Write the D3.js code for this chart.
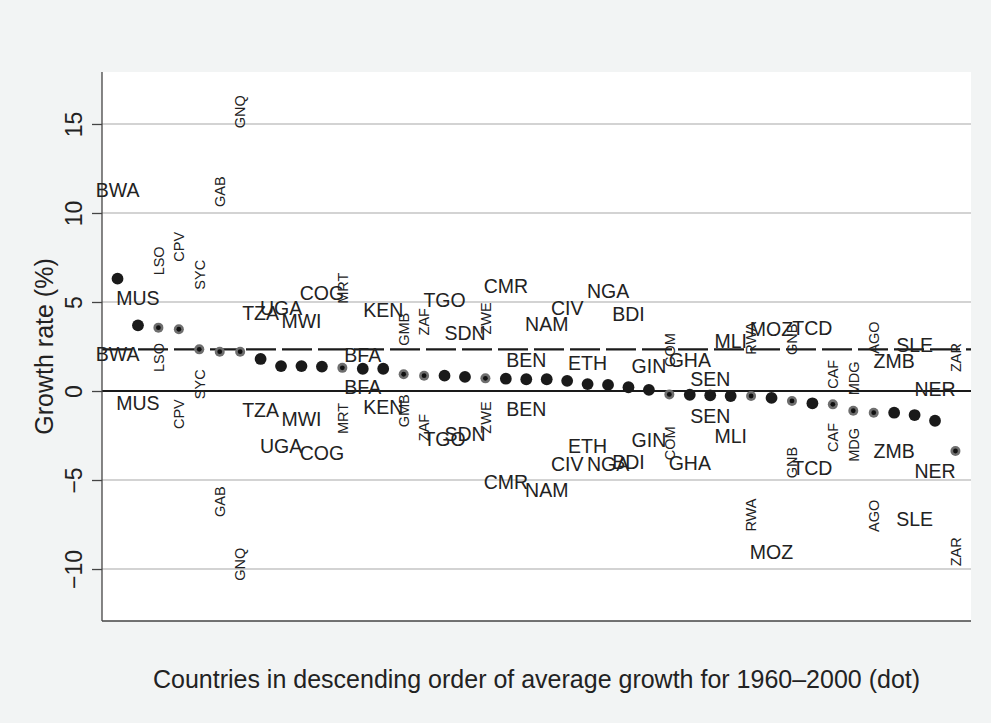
<!DOCTYPE html>
<html>
<head>
<meta charset="utf-8">
<script src="https://cdn.jsdelivr.net/npm/d3@7"></script>
<style>
  body { margin: 0; background: #f2f4f4; }
  svg { display: block; font-family: "Liberation Sans", Arial, Helvetica, sans-serif; }
</style>
</head>
<body>
<svg id="chart"></svg>
<script>
// countries, already sorted by average growth 1960-2000
var countries = ["BWA","MUS","LSO","CPV","SYC","GAB","GNQ","TZA","UGA","MWI","COG","MRT","BFA","KEN",
  "GMB","ZAF","TGO","SDN","ZWE","CMR","BEN","NAM","CIV","ETH","NGA","BDI","GIN","COM","GHA","SEN",
  "MLI","RWA","MOZ","GNB","TCD","CAF","MDG","AGO","ZMB","SLE","NER","ZAR"];

// average growth (the dots)
var avgGrowth = [6.31, 3.69, 3.56, 3.47, 2.34, 2.21, 2.21, 1.80, 1.40, 1.40, 1.37, 1.30, 1.25, 1.25,
  0.94, 0.86, 0.86, 0.79, 0.71, 0.69, 0.66, 0.66, 0.57, 0.39, 0.34, 0.21, 0.06, -0.19, -0.21, -0.24,
  -0.28, -0.28, -0.39, -0.56, -0.69, -0.75, -1.11, -1.22, -1.22, -1.35, -1.67, -3.37];

// upper and lower label positions
var highGrowth = [11.28, 5.22, 7.31, 8.10, 6.53, 11.2, 15.69, 4.38, 4.64, 3.94, 5.49, 5.77, 2.05, 4.53,
  3.47, 3.89, 5.14, 3.26, 4.08, 5.88, 1.72, 3.74, 4.67, 1.59, 5.61, 4.30, 1.39, 2.30, 1.74, 0.68,
  2.80, 2.96, 3.47, 2.91, 3.53, 0.94, 0.71, 3.00, 1.70, 2.58, 0.10, 1.88];
var lowGrowth = [2.07, -0.65, 1.88, -1.30, 0.38, -6.22, -9.73, -1.07, -3.10, -1.58, -3.46, -1.54, 0.22, -0.90,
  -1.11, -2.05, -2.71, -2.43, -1.49, -5.12, -1.00, -5.56, -4.12, -3.08, -4.11, -3.98, -2.74, -2.94, -4.02, -1.39,
  -2.52, -6.97, -9.06, -4.02, -4.30, -2.61, -3.03, -7.01, -3.38, -7.18, -4.48, -9.03];

// small countries get a grey marker and rotated labels
var smallCountries = ["LSO","CPV","SYC","GAB","GNQ","MRT","GMB","ZAF","ZWE","COM","RWA","GNB","CAF","MDG","AGO","ZAR"];

var meanGrowth = 2.34;
var yTicks = [-10, -5, 0, 5, 10, 15];

var width = 991, height = 723;
var plotLeft = 102, plotRight = 971, plotTop = 72, plotBottom = 621;

var svg = d3.select("#chart").attr("width", width).attr("height", height);

svg.append("rect").attr("width", width).attr("height", height).attr("fill", "#f2f4f4");
svg.append("rect")
  .attr("x", plotLeft).attr("y", plotTop)
  .attr("width", plotRight - plotLeft).attr("height", plotBottom - plotTop)
  .attr("fill", "white");

var x = d3.scalePoint().domain(countries).range([plotLeft, plotRight]).padding(0.76);
var y = d3.scaleLinear().domain([-12.92, 17.92]).range([plotBottom, plotTop]);

// grid lines
svg.selectAll(".grid")
  .data(yTicks.filter(function(d) { return d !== 0; }))
  .enter().append("line")
  .attr("x1", plotLeft).attr("x2", plotRight)
  .attr("y1", function(d) { return y(d); })
  .attr("y2", function(d) { return y(d); })
  .attr("stroke", "#c4c4c4")
  .attr("stroke-width", 1.6);

// zero line and mean line
svg.append("line")
  .attr("x1", plotLeft).attr("x2", plotRight)
  .attr("y1", y(0)).attr("y2", y(0))
  .attr("stroke", "#1a1a1a").attr("stroke-width", 2.2);

svg.append("line")
  .attr("x1", plotLeft).attr("x2", plotRight)
  .attr("y1", y(meanGrowth)).attr("y2", y(meanGrowth))
  .attr("stroke", "#1a1a1a").attr("stroke-width", 2.2)
  .attr("stroke-dasharray", "30,6");

// y axis
var yAxis = svg.append("g")
  .attr("transform", "translate(" + plotLeft + ",0)")
  .call(d3.axisLeft(y).tickValues(yTicks).tickSize(10).tickSizeOuter(0)
    .tickFormat(function(d) { return d < 0 ? "\u2212" + Math.abs(d) : d; }));
yAxis.select(".domain").attr("stroke", "#444").attr("stroke-width", 1.3)
  .attr("d", "M0," + plotTop + "V" + plotBottom);
yAxis.selectAll(".tick line").attr("stroke", "#444").attr("stroke-width", 1.3);
yAxis.selectAll(".tick text")
  .attr("x", 0).attr("y", -20.5).attr("dy", null)
  .attr("transform", "rotate(-90)")
  .attr("text-anchor", "middle")
  .attr("fill", "#222")
  .style("font-size", "23px")
  .style("font-family", "'Liberation Sans', Arial, Helvetica, sans-serif");

// x axis line
svg.append("line")
  .attr("x1", plotLeft).attr("x2", plotRight)
  .attr("y1", plotBottom).attr("y2", plotBottom)
  .attr("stroke", "#444").attr("stroke-width", 1.3);

// dots
var rows = countries.map(function(c, i) {
  return { code: c, avg: avgGrowth[i], hi: highGrowth[i], lo: lowGrowth[i], small: smallCountries.indexOf(c) >= 0 };
});

var dots = svg.selectAll(".dot").data(rows).enter().append("g");
dots.append("circle")
  .attr("cx", function(d) { return x(d.code); })
  .attr("cy", function(d) { return y(d.avg); })
  .attr("r", function(d) { return d.small ? 5 : 5.9; })
  .attr("fill", function(d) { return d.small ? "#6e6e6e" : "#1a1a1a"; });
dots.filter(function(d) { return d.small; }).append("circle")
  .attr("cx", function(d) { return x(d.code); })
  .attr("cy", function(d) { return y(d.avg); })
  .attr("r", 2.4)
  .attr("fill", "#111");

// country labels, one above and one below
var labels = [];
rows.forEach(function(d) {
  labels.push({ code: d.code, v: d.hi, small: d.small });
  labels.push({ code: d.code, v: d.lo, small: d.small });
});

svg.selectAll(".lab").data(labels).enter().append("text")
  .attr("transform", function(d) {
    return "translate(" + x(d.code) + "," + y(d.v) + ")" + (d.small ? " rotate(-90)" : "");
  })
  .attr("text-anchor", "middle")
  .attr("dy", "0.36em")
  .attr("fill", "#222")
  .style("font-size", function(d) { return d.small ? "14.5px" : "19.5px"; })
  .text(function(d) { return d.code; });

// axis titles
svg.append("text")
  .attr("transform", "translate(53," + (plotTop + plotBottom) / 2 + ") rotate(-90)")
  .attr("text-anchor", "middle")
  .attr("fill", "#222")
  .style("font-size", "25px")
  .text("Growth rate (%)");

svg.append("text")
  .attr("x", (plotLeft + plotRight) / 2).attr("y", 688)
  .attr("text-anchor", "middle")
  .attr("fill", "#222")
  .style("font-size", "25px")
  .text("Countries in descending order of average growth for 1960\u20132000 (dot)");
</script>
</body>
</html>
